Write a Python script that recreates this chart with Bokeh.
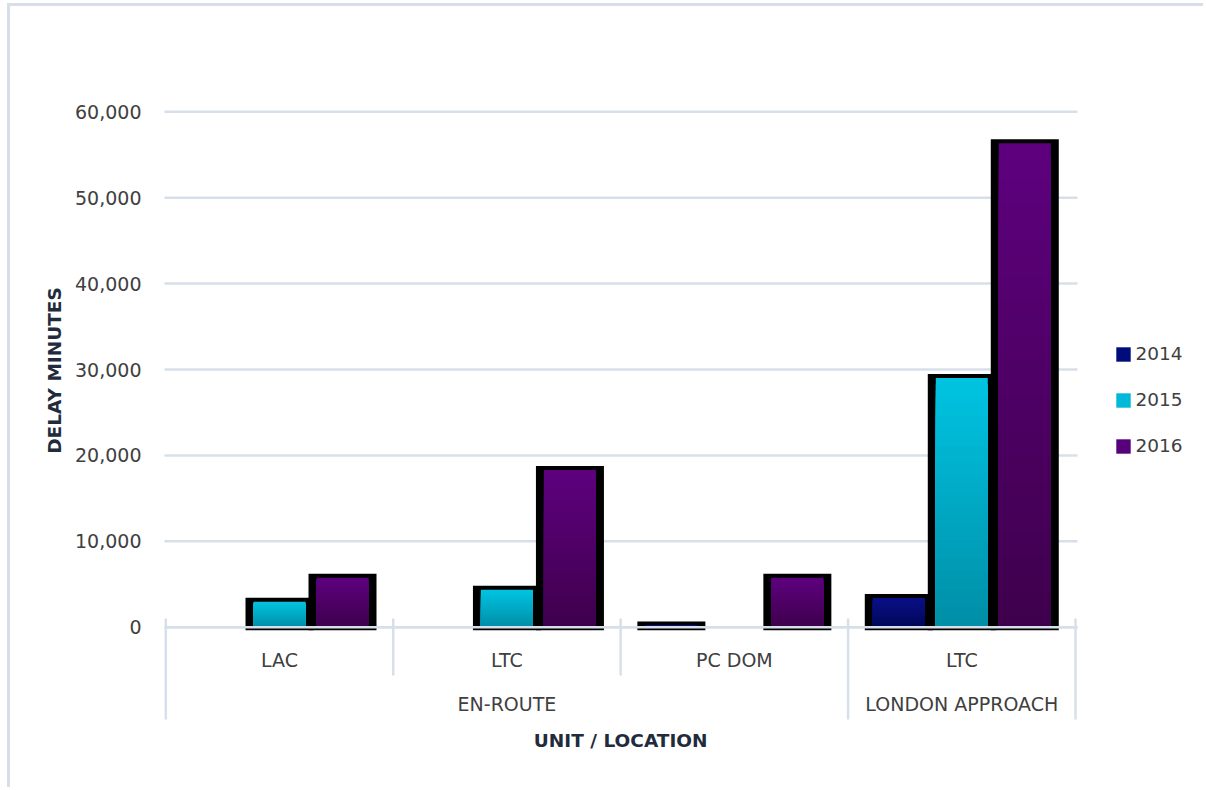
import math
from bokeh.plotting import figure
from bokeh.models import ColumnDataSource, Legend, LegendItem, Range1d
from bokeh.core.properties import value
from bokeh.embed import file_html
from bokeh.resources import INLINE

# ---------------- data ----------------
units = ["LAC", "LTC", "PC DOM", "LTC"]
locations = ["EN-ROUTE", "EN-ROUTE", "EN-ROUTE", "LONDON APPROACH"]
years = ["2014", "2015", "2016"]
delay_2014 = [None, None, 200, 3400]
delay_2015 = [2950, 4350, None, 29000]
delay_2016 = [5750, 18300, 5750, 56350]
y_ticks = [0, 10000, 20000, 30000, 40000, 50000, 60000]
y_title = "DELAY MINUTES"
x_title = "UNIT / LOCATION"

# ---------------- style / layout ----------------
series = [delay_2014, delay_2015, delay_2016]
grad_top = ["#0A1088", "#00C4E2", "#5E007E"]
grad_bottom = ["#000858", "#008EA6", "#3E004C"]
legend_colors = ["#000C7C", "#00B8D8", "#56007A"]
GRID = "#D7E0EA"
TXT = "#404040"
TITLE_TXT = "#222B3C"
FONT = "DejaVu Sans"

OX, OY = 10, 6                      # figure origin on page (after css border)
W, H = 1206 - OX, 790 - OY
X0_PX, X4_PX = 165.3, 1075.0        # page x of category boundaries 0 and 4
GRID_L, GRID_R = 164, 1077
CW = (X4_PX - X0_PX) / 4.0
ZERO_Y = 626.7
PX10K = 85.9


def dy(px):
    return px / PX10K * 10000.0


def py(page_y):
    return (ZERO_Y - page_y) / PX10K * 10000.0


def dx(px):
    return px / CW


def px(page_x):
    return (page_x - X0_PX) / CW


p = figure(width=W, height=H, output_backend="svg", toolbar_location=None,
           x_range=Range1d(px(OX), px(OX + W)), y_range=Range1d(py(OY + H), py(OY)),
           min_border=0, background_fill_color="white", border_fill_color="white")
p.outline_line_color = None
p.axis.visible = False
p.grid.visible = False
p.styles = {"border-top": "3px solid #D6DFE9", "border-left": "3px solid #D6DFE9",
            "margin-left": "7px", "margin-top": "3px"}

# gridlines
p.segment(x0=[px(GRID_L)] * len(y_ticks), x1=[px(GRID_R)] * len(y_ticks),
          y0=y_ticks, y1=y_ticks, line_color=GRID, line_width=2.5)

# y tick labels
p.text(x=[px(141)] * len(y_ticks), y=y_ticks, text=[f"{t:,}" for t in y_ticks],
       text_align="right", text_baseline="middle", text_font=value(FONT),
       text_font_size="19px", text_color=TXT)

# axis titles
p.text(x=[px(54)], y=[py(370)], text=[y_title], angle=math.pi / 2,
       text_align="center", text_baseline="middle", text_font=value(FONT),
       text_font_style="bold", text_font_size="18.5px", text_color=TITLE_TXT)
p.text(x=[len(units) / 2.0], y=[py(740)], text=[x_title],
       text_align="center", text_baseline="middle", text_font=value(FONT),
       text_font_style="bold", text_font_size="18.5px", text_color=TITLE_TXT)


def mix(c1, c2, t):
    a = [int(c1[i:i + 2], 16) for i in (1, 3, 5)]
    b = [int(c2[i:i + 2], 16) for i in (1, 3, 5)]
    return "#%02x%02x%02x" % tuple(int(round(a[k] + (b[k] - a[k]) * t)) for k in range(3))


offsets = [dx(-63), 0.0, dx(63)]
centers = [i + 0.5 for i in range(len(units))]

# black backing (outline) bars
bx, btop = [], []
for j, vals in enumerate(series):
    for i, v in enumerate(vals):
        if v is None:
            continue
        bx.append(centers[i] + offsets[j])
        btop.append(v + dy(4))
p.vbar(x=bx, top=btop, bottom=dy(-3), width=dx(68), fill_color="black", line_color=None)

# gradient fills (painted tall-to-short so each band shows its colour)
N = 40
for j, vals in enumerate(series):
    xs, tops, cols = [], [], []
    for k in range(N, 0, -1):
        c = mix(grad_bottom[j], grad_top[j], (k - 0.5) / N)
        for i, v in enumerate(vals):
            if v is None:
                continue
            xs.append(centers[i] + offsets[j])
            tops.append(v * k / N)
            cols.append(c)
    src = ColumnDataSource(dict(x=xs, top=tops, color=cols))
    p.vbar(x="x", top="top", bottom=0, width=dx(52), fill_color="color",
           line_color=None, source=src)

# baseline on top of bars
p.segment(x0=[px(GRID_L)], x1=[px(GRID_R)], y0=[0], y1=[0], line_color=GRID, line_width=2.5)

# category separators
sx, sy0, sy1 = [], [], []
for b in range(len(units) + 1):
    long_line = b == 0 or b == len(units) or locations[b - 1] != locations[b]
    sx.append(b)
    sy0.append(py(618))
    sy1.append(py(719 if long_line else 675))
p.segment(x0=sx, x1=sx, y0=sy0, y1=sy1, line_color=GRID, line_width=2.5)

# unit labels
p.text(x=centers, y=[py(659)] * len(units), text=units, text_align="center",
       text_baseline="middle", text_font=value(FONT), text_font_size="19px",
       text_color=TXT)

# location labels (grouped)
gx, gl = [], []
start = 0
for i in range(1, len(locations) + 1):
    if i == len(locations) or locations[i] != locations[start]:
        gx.append((start + i) / 2.0)
        gl.append(locations[start])
        start = i
p.text(x=gx, y=[py(703)] * len(gx), text=gl, text_align="center",
       text_baseline="middle", text_font=value(FONT), text_font_size="19px",
       text_color=TXT)

# legend (swatch renderers sit off-range so only the legend shows them)
items = []
for j, yr in enumerate(years):
    r = p.vbar(x=[px(OX) - 10], top=[1], width=0.1, fill_color=legend_colors[j],
               line_color=None)
    items.append(LegendItem(label=yr, renderers=[r]))
legend = Legend(items=items, location=(1113.5 - OX, OY + H - 456),
                glyph_width=18, glyph_height=18,
                label_height=18, label_standoff=4, spacing=25, padding=0, margin=0,
                border_line_color=None, background_fill_alpha=0,
                label_text_font=FONT, label_text_font_size="18.5px",
                label_text_color=TXT)
p.add_layout(legend, "center")

open("out.html", "w").write(file_html(p, INLINE))
